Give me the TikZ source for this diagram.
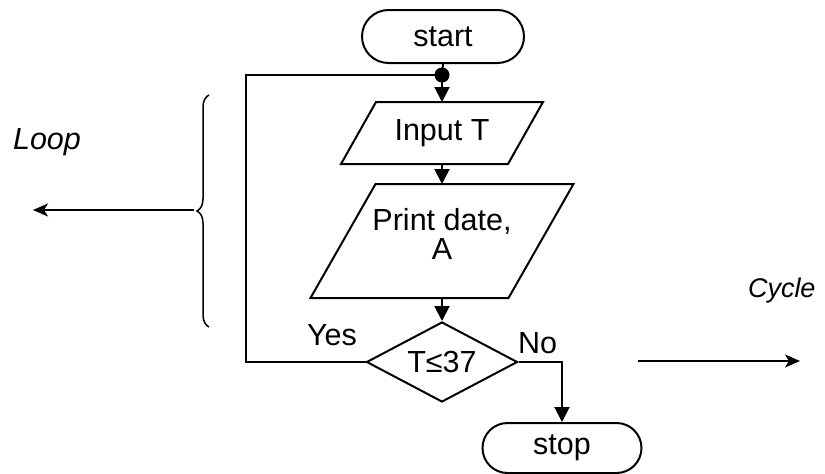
\documentclass[tikz,border=0pt]{standalone}
\usepackage{fontspec}
\setmainfont{Liberation Sans}
\usetikzlibrary{shapes.geometric,shapes.misc,arrows.meta,decorations.pathreplacing}

\begin{document}
\begin{tikzpicture}[x=1pt,y=-1pt,
  line width=2pt,
  every node/.style={font=\fontsize{30.5}{29}\selectfont},
  term/.style={draw, rounded rectangle, inner sep=0pt},
  iobox/.style={rectangle, inner sep=0pt, align=center},
  decide/.style={draw, diamond, shape aspect=1.9, inner sep=0pt,
                 minimum width=151pt, minimum height=80pt},
  flow/.style={-{Triangle[length=15pt,width=15pt]}},
  note/.style={-{Stealth[length=15pt,width=13pt,inset=4pt]}},
  lbl/.style={anchor=base, inner sep=0pt}]

\useasboundingbox (0,0) rectangle (825,474);

% flowchart blocks
\node[term, minimum width=162pt, minimum height=53pt] (start) at (443,36.5) {start};
\node[iobox, minimum width=200pt, minimum height=60pt] (input) at (442,133) {Input T};
\node[iobox, minimum width=261pt, minimum height=112pt, text depth=15pt] (print) at (442,241) {Print date,\\A};
\node[decide] (test) at (442,362) {T≤37};
\node[term, minimum width=159pt, minimum height=50pt] (stop) at (562,448) {stop};

% parallelogram outlines of the input/output blocks
\draw ([xshift=35pt]input.north west) -- (input.north east)
      -- ([xshift=-35pt]input.south east) -- (input.south west) -- cycle;
\draw ([xshift=65pt]print.north west) -- (print.north east)
      -- ([xshift=-65pt]print.south east) -- (print.south west) -- cycle;

% junction where the loop rejoins
\coordinate (jn) at (442,75);
\coordinate (lx) at (246,75);
\fill (jn) circle (7.5pt);

% connectors
\draw (start.south) -- (jn);
\draw[flow] (jn) -- (input.north);
\draw[flow] (input.south) -- (print.north);
\draw[flow] (print.south) -- (test.north);
\draw (test.west) -| (lx) -- (jn);
\draw[flow] (test.east) -| (stop.north);

% branch labels
\node[lbl] (yes) at (332,345) {Yes};
\node[lbl] (no) at (537.5,353) {No};

% brace marking the loop body
\coordinate (brbot) at (209,327);
\coordinate (brtop) at (209,95);
\coordinate (brtip) at (194,210);
\coordinate (loopend) at (33,210);
\draw[line width=1.5pt, decorate, decoration={brace, amplitude=12pt}] (brbot) -- (brtop);
\draw[note] (brtip) -- (loopend);
\node[lbl, font=\fontsize{30.5}{29}\selectfont\itshape] (loop) at (47,149) {Loop};

% cycle annotation
\coordinate (cyc1) at (638,361);
\coordinate (cyc2) at (800,361);
\draw[note] (cyc1) -- (cyc2);
\node[lbl, anchor=base west, font=\fontsize{27}{27}\selectfont\itshape] (cycle) at (747,297) {Cycle};

\end{tikzpicture}
\end{document}
